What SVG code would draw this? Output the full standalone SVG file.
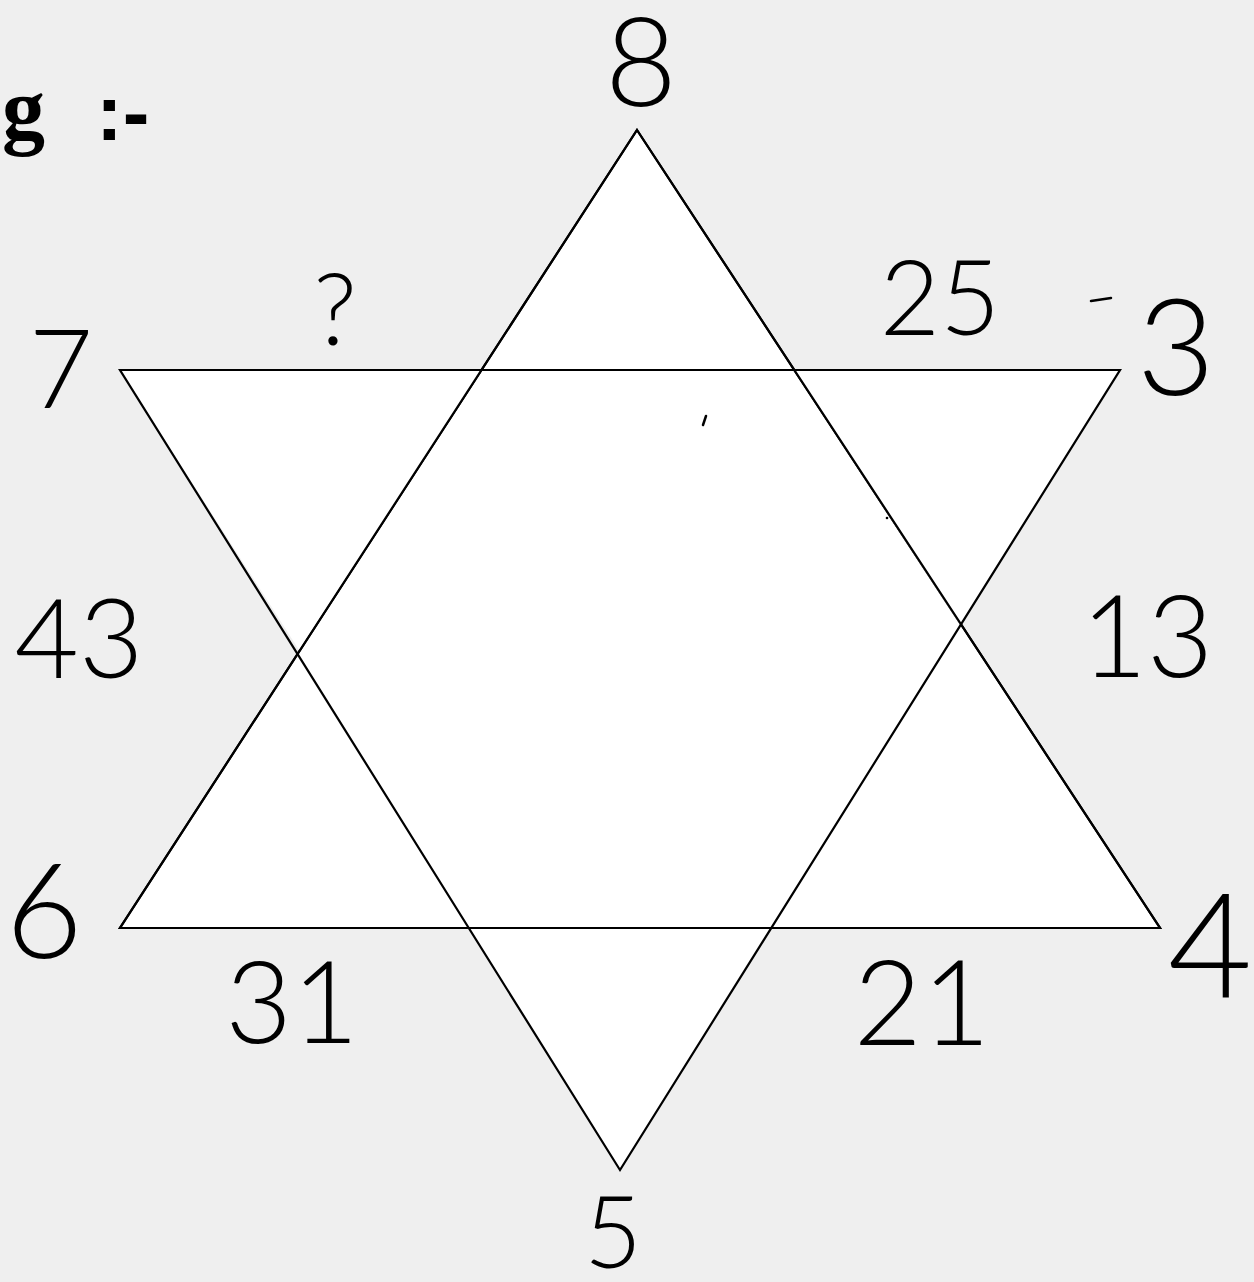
<svg xmlns="http://www.w3.org/2000/svg" width="1254" height="1282" viewBox="0 0 1254 1282">
  <style>
    .hand { font-family: Lato, Roboto, "Open Sans", "DejaVu Sans", sans-serif; font-weight: 300; fill: #000; text-anchor: middle; }
    .tri { fill: #fff; stroke: #000; stroke-width: 2.2; stroke-linejoin: miter; }
    .edge { fill: none; stroke: #000; stroke-width: 2.2; }
    .mark { stroke: #000; stroke-width: 2.5; stroke-linecap: round; fill: none; }
  </style>
  <rect x="0" y="0" width="1254" height="1282" fill="#efefef"/>
  <g id="title">
    <text x="2" y="138" font-family="'Liberation Serif', serif" font-weight="bold" font-size="86" fill="#000">g</text>
    <text x="96" y="140" font-family="'Liberation Sans', sans-serif" font-weight="bold" font-size="80" fill="#000">:-</text>
  </g>
  <g id="star">
    <polygon id="triangle-up" class="tri" points="637,130 1160,928 120,928"/>
    <polygon points="120,370 482,370 299,650" fill="#fff"/>
    <polygon points="794,370 1120,370 960,625" fill="#fff"/>
    <polygon points="469,928 771,928 620,1170" fill="#fff"/>
    <polygon id="triangle-up-edge" class="edge" points="637,130 1160,928 120,928"/>
    <polygon id="triangle-down" class="edge" points="120,370 1120,370 620,1170"/>
  </g>
  <g id="labels">
    <text id="n8" class="hand" x="641" y="106" font-size="124">8</text>
    <text id="n7" class="hand" x="61" y="408" font-size="111">7</text>
    <text id="q" class="hand" x="335" y="345" font-size="100">?</text>
    <text id="n25" class="hand" x="940" y="335" font-size="104">25</text>
    <text id="n3" class="hand" x="1176" y="395" font-size="135">3</text>
    <text id="n43" class="hand" x="79" y="678" font-size="111">43</text>
    <text id="n13" class="hand" x="1147" y="677" font-size="114">13</text>
    <text id="n6" class="hand" x="44" y="958" font-size="133">6</text>
    <text id="n31" class="hand" x="292" y="1043" font-size="115">31</text>
    <text id="n21" class="hand" x="922" y="1045" font-size="118">21</text>
    <text id="n4" class="hand" x="1210" y="998" font-size="146">4</text>
    <text id="n5" class="hand" x="613" y="1268" font-size="100">5</text>
  </g>
  <g id="marks">
    <path class="mark" d="M1091,301 L1111,298"/>
    <path class="mark" d="M706,416 L703,425"/>
    <circle cx="887" cy="518" r="1.3" fill="#000"/>
  </g>
</svg>
